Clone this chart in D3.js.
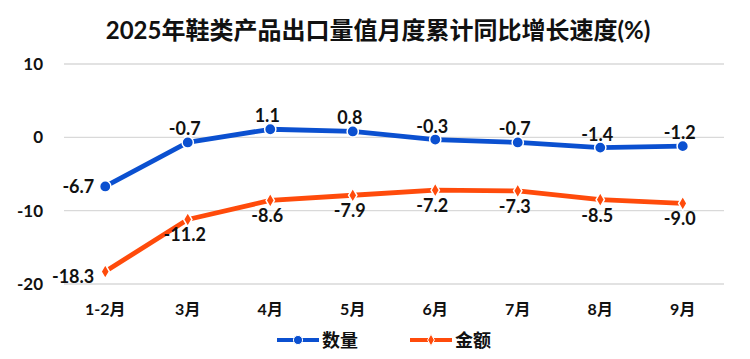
<!DOCTYPE html>
<html lang="zh">
<head>
<meta charset="UTF-8">
<script src="https://cdn.jsdelivr.net/npm/d3@7"></script>
<style>
  body { margin: 0; background: #fff; }
  text { font-family: Lato, "Noto Sans CJK SC", sans-serif; font-weight: bold; fill: #111; }
</style>
</head>
<body>
<div id="chart"></div>
<script>
const months = ["1-2月", "3月", "4月", "5月", "6月", "7月", "8月", "9月"];
const quantity = [-6.7, -0.7, 1.1, 0.8, -0.3, -0.7, -1.4, -1.2];
const amount = [-18.3, -11.2, -8.6, -7.9, -7.2, -7.3, -8.5, -9.0];
const yTicks = [10, 0, -10, -20];

const W = 750, H = 359;
const margin = { top: 64, right: 26, bottom: 75, left: 64 };

const svg = d3.select("#chart").append("svg")
  .attr("width", W).attr("height", H);

svg.append("text")
  .attr("x", W / 2 + 3).attr("y", 39)
  .attr("text-anchor", "middle")
  .style("font-size", "24px")
  .text("2025年鞋类产品出口量值月度累计同比增长速度(%)");

const x = d3.scaleBand().domain(months)
  .range([margin.left, W - margin.right]);
const y = d3.scaleLinear().domain([-20, 10])
  .range([H - margin.bottom, margin.top]);
const cx = m => x(m) + x.bandwidth() / 2;

// grid
svg.append("g").selectAll("line").data(yTicks).join("line")
  .attr("x1", margin.left).attr("x2", W - margin.right)
  .attr("y1", d => y(d)).attr("y2", d => y(d))
  .attr("stroke", "#d9d9d9").attr("stroke-width", 1.3);

svg.append("g").selectAll("text").data(yTicks).join("text")
  .attr("x", 43).attr("y", d => y(d) + 6)
  .attr("text-anchor", "end")
  .style("font-size", "17px")
  .text(d => d);

svg.append("g").selectAll("text").data(months).join("text")
  .attr("x", d => cx(d)).attr("y", 315)
  .attr("text-anchor", "middle")
  .style("font-size", "16px")
  .text(d => d);

const line = d3.line()
  .x((d, i) => cx(months[i]))
  .y(d => y(d));

const series = [
  { name: "数量", values: quantity, color: "#0B50D0", marker: "circle", above: true },
  { name: "金额", values: amount, color: "#FF4B0B", marker: "diamond", above: false }
];

series.forEach(s => {
  svg.append("path")
    .attr("d", line(s.values))
    .attr("fill", "none")
    .attr("stroke", s.color)
    .attr("stroke-width", 4.8)
    .attr("stroke-linejoin", "round")
    .attr("stroke-linecap", "round");

  svg.append("g").selectAll("path").data(s.values).join("path")
    .attr("transform", (d, i) => `translate(${cx(months[i])},${y(d)})`)
    .attr("d", d3.symbol().type(s.marker === "circle" ? d3.symbolCircle : d3.symbolDiamond)
      .size(s.marker === "circle" ? 100 : 60))
    .attr("fill", s.color)
    .attr("stroke", "#fff")
    .attr("stroke-width", 1.5);

  svg.append("g").selectAll("text").data(s.values).join("text")
    .attr("x", (d, i) => cx(months[i]) + (i === 0 ? -11 : -3))
    .attr("y", (d, i) => y(d) + (i === 0 ? (s.above ? 7 : 11) : (s.above ? -7 : 22)))
    .attr("text-anchor", (d, i) => i === 0 ? "end" : "middle")
    .style("font-size", "18px")
    .text(d => d.toFixed(1));
});

// legend
const legend = [
  { s: series[0], x: 277 },
  { s: series[1], x: 410 }
];
legend.forEach(l => {
  const g = svg.append("g").attr("transform", `translate(${l.x},340)`);
  g.append("line").attr("x1", 0).attr("x2", 42)
    .attr("stroke", l.s.color).attr("stroke-width", 4);
  g.append("path").attr("transform", "translate(21,0)")
    .attr("d", d3.symbol().type(l.s.marker === "circle" ? d3.symbolCircle : d3.symbolDiamond)
      .size(l.s.marker === "circle" ? 65 : 40))
    .attr("fill", l.s.color).attr("stroke", "#fff").attr("stroke-width", 1);
  g.append("text").attr("x", 45).attr("y", 7)
    .style("font-size", "18px")
    .text(l.s.name);
});
</script>
</body>
</html>
